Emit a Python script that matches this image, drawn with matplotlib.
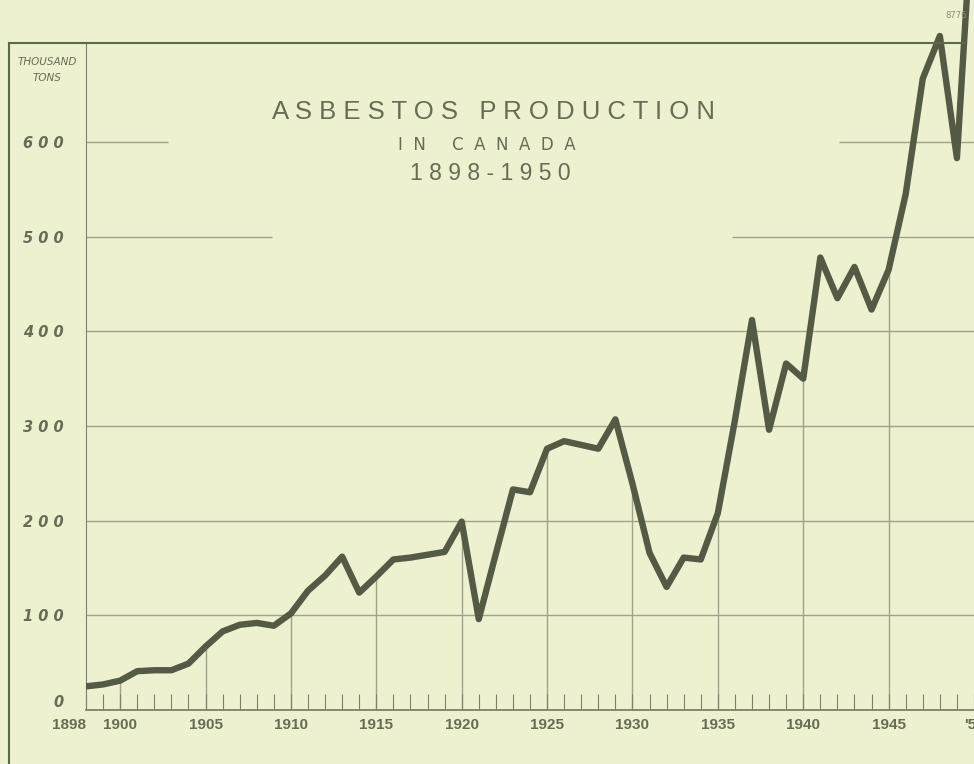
import matplotlib
matplotlib.use("Agg")
import matplotlib.pyplot as plt
from matplotlib.lines import Line2D

# asbestos production in Canada, thousand tons
years = list(range(1898, 1951))
tons = [25, 27, 31, 41, 42, 42, 49, 67, 83, 90, 92, 89, 102, 126, 142,
        162, 124, 141, 159, 161, 164, 167, 199, 96, 165, 233, 230, 276,
        284, 280, 276, 307, 239, 166, 130, 161, 159, 208, 306, 412, 296,
        366, 350, 478, 435, 468, 423, 465, 545, 667, 712, 583, 875]

tick_years = [1898, 1900, 1905, 1910, 1915, 1920, 1925, 1930, 1935, 1940, 1945, 1950]
tick_labels = ["1898", "1900", "1905", "1910", "1915", "1920", "1925", "1930",
               "1935", "1940", "1945", "'50"]
y_ticks = [0, 100, 200, 300, 400, 500, 600]
y_labels = ["0", "1 0 0", "2 0 0", "3 0 0", "4 0 0", "5 0 0", "6 0 0"]

bg = "#edf1d0"
ink = "#676c55"
grid = "#9ea38a"
line_col = "#555a45"

fig = plt.figure(figsize=(9.74, 7.64), dpi=100, facecolor=bg)
ax = fig.add_axes([86 / 974, 54 / 764, 1 - 86 / 974, 1 - 54 / 764])
ax.set_facecolor(bg)
ax.set_xlim(1898, 1949.78)
ax.set_ylim(0, 750)

# horizontal rules, 500 and 600 broken around the title
for v in [100, 200, 300, 400]:
    ax.axhline(v, color=grid, lw=1.0, zorder=1)
ax.hlines(500, 1898, 1908.9, color=grid, lw=1.0, zorder=1)
ax.hlines(500, 1935.8, 1950, color=grid, lw=1.0, zorder=1)
ax.hlines(600, 1898, 1902.8, color=grid, lw=1.0, zorder=1)
ax.hlines(600, 1942.1, 1950, color=grid, lw=1.0, zorder=1)

# verticals every five years, up to the curve
five = [y for y in years if y % 5 == 0 and y < 1950]
ax.vlines(five, 0, [tons[years.index(y)] for y in five], color=grid, lw=1.0, zorder=1)

ax.plot(years, tons, color=line_col, lw=4.6, solid_joinstyle="round",
        solid_capstyle="round", zorder=3)

for s in ["top", "right"]:
    ax.spines[s].set_visible(False)
ax.spines["left"].set_bounds(0, 704)
ax.spines["left"].set_color("#7d826a")
ax.spines["bottom"].set_color("#7d826a")
ax.spines["bottom"].set_linewidth(1.3)

ax.set_xticks(tick_years)
ax.set_xticklabels(tick_labels, family="Liberation Sans", fontweight="bold",
                   fontsize=11, color=ink)
ax.get_xticklabels()[0].set_ha("right")
ax.set_xticks(years[:-1], minor=True)
ax.tick_params(axis="x", which="both", direction="in", length=11.5, width=0.8,
               color="#7d826a", pad=6)
ax.set_yticks(y_ticks)
ax.set_yticklabels(y_labels, style="italic", fontweight="bold", fontsize=10.5, color=ink)
ax.get_yticklabels()[0].set_va("bottom")
ax.tick_params(axis="y", length=0, pad=16)

# outer frame
fig.add_artist(Line2D([9 / 974, 9 / 974], [0, 1 - 43 / 764], color="#5d6a4a", lw=1.5))
fig.add_artist(Line2D([9 / 974, 965 / 974], [1 - 43 / 764, 1 - 43 / 764], color="#5d6a4a", lw=1.5))

fig.text(47 / 974, 1 - 62 / 764, "THOUSAND", ha="center", va="center", style="italic",
         fontsize=7.5, color=ink)
fig.text(47 / 974, 1 - 78 / 764, "TONS", ha="center", va="center", style="italic",
         fontsize=7.5, color=ink)

fig.text(494 / 974, 1 - 112 / 764, "A S B E S T O S   P R O D U C T I O N",
         ha="center", va="center", family="Liberation Sans", fontsize=18.5, color=ink)
fig.text(487 / 974, 1 - 145 / 764, "I  N     C  A  N  A  D  A", ha="center", va="center",
         fontsize=12, color=ink)
fig.text(490 / 974, 1 - 173 / 764, "1 8 9 8 - 1 9 5 0", ha="center", va="center",
         family="Liberation Sans", fontsize=16.5, color=ink)
fig.text(956 / 974, 1 - 16 / 764, "8776", ha="center", va="center", fontsize=6, color="#8a8f78")

fig.savefig("out.png", dpi=100, facecolor=bg)
